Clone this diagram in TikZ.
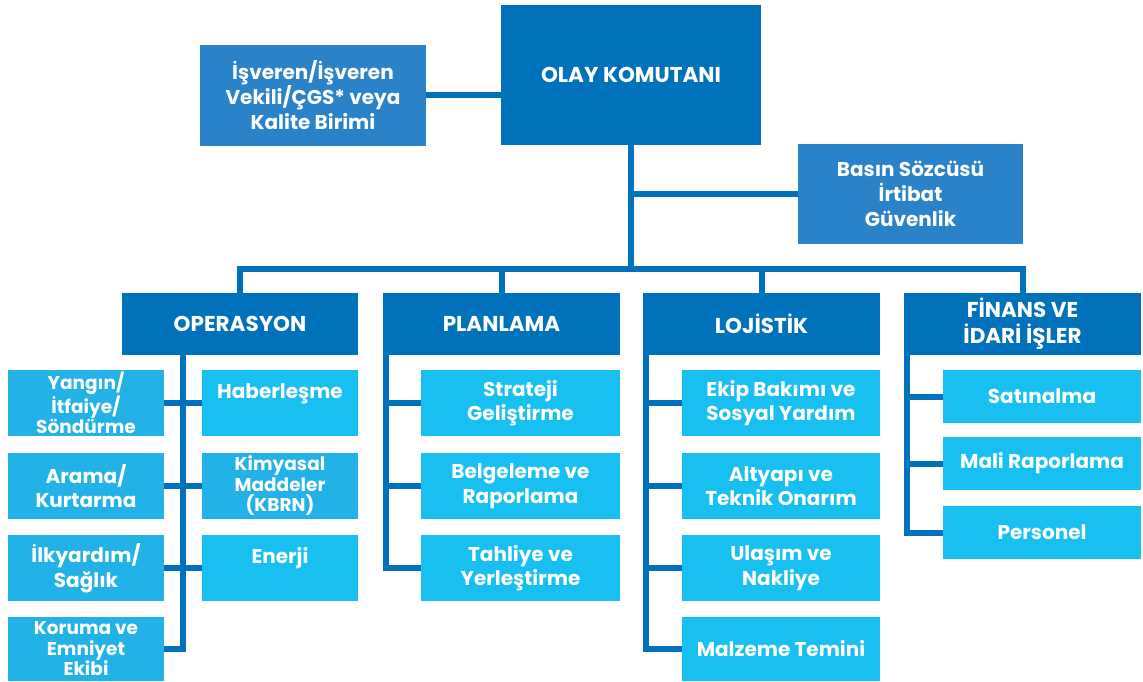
\documentclass[tikz,border=0pt]{standalone}
\usepackage{fontspec}
\setmainfont{Poppins}[BoldFont={Poppins Bold}]
\definecolor{koyu}{RGB}{0,113,187}
\definecolor{orta}{RGB}{42,130,200}
\definecolor{acik}{RGB}{24,192,242}
\definecolor{acik2}{RGB}{34,178,232}
\begin{document}
\begin{tikzpicture}[x=1pt,y=-1pt,
    kutu/.style={fill=#1,text=white,inner sep=0pt,align=center,
      font=\bfseries\fontsize{20}{25}\selectfont},
    ust/.style={kutu=koyu,font=\bfseries\fontsize{21.5}{26}\selectfont},
    alt/.style={kutu=acik,minimum height=66pt,font=\bfseries\fontsize{20}{24.5}\selectfont},
    sik/.style={font=\bfseries\fontsize{18.5}{20.5}\selectfont},
    hat/.style={draw=koyu,line width=6pt,line join=miter}]
  \useasboundingbox (0,0) rectangle (1143,681);

  % ust kisim
  \node[ust,minimum width=260pt,minimum height=140pt] (olay) at (631,75) {OLAY KOMUTANI};
  \node[kutu=orta,minimum width=226pt,minimum height=101pt] (isveren) at (313,95)
    {İşveren/İşveren\\Vekili/ÇGS* veya\\Kalite Birimi};
  \node[kutu=orta,minimum width=225pt,minimum height=100pt] (basin) at (910.5,194)
    {Basın Sözcüsü\\İrtibat\\Güvenlik};

  % bolumler
  \node[ust,minimum width=236pt,minimum height=62pt] (op) at (240,324) {OPERASYON};
  \node[ust,minimum width=237pt,minimum height=62pt] (plan) at (501.5,324) {PLANLAMA};
  \node[ust,minimum width=237pt,minimum height=62pt] (loj) at (761.5,324) {LOJİSTİK};
  \node[ust,minimum width=237pt,minimum height=62pt] (fin) at (1022.5,324) {FİNANS VE\\İDARİ İŞLER};

  % operasyon
  \node[alt,fill=acik2,sik,minimum width=156pt] (yangin) at (86,403) {Yangın/\\İtfaiye/\\Söndürme};
  \node[alt,fill=acik2,minimum width=156pt] (arama) at (86,486) {Arama/\\Kurtarma};
  \node[alt,fill=acik2,minimum width=156pt] (saglik) at (86,568) {İlkyardım/\\Sağlık};
  \node[alt,fill=acik2,sik,minimum width=156pt,minimum height=64pt] (koruma) at (86,649) {Koruma ve\\Emniyet\\Ekibi};
  \node[alt,minimum width=156pt] (haber) at (280,403) {Haberleşme\\\mbox{}};
  \node[alt,fill=acik2,sik,minimum width=156pt] (kbrn) at (280,486) {Kimyasal\\Maddeler\\(KBRN)};
  \node[alt,minimum width=156pt] (enerji) at (280,568) {Enerji\\\mbox{}};

  % planlama
  \node[alt,minimum width=199pt] (strateji) at (520.5,403) {Strateji\\Geliştirme};
  \node[alt,minimum width=199pt] (belge) at (520.5,486) {Belgeleme ve\\Raporlama};
  \node[alt,minimum width=199pt] (tahliye) at (520.5,568) {Tahliye ve\\Yerleştirme};

  % lojistik
  \node[alt,minimum width=198pt] (ekip) at (781,403) {Ekip Bakımı ve\\Sosyal Yardım};
  \node[alt,minimum width=198pt] (altyapi) at (781,486) {Altyapı ve\\Teknik Onarım};
  \node[alt,minimum width=198pt] (ulasim) at (781,568) {Ulaşım ve\\Nakliye};
  \node[alt,minimum width=198pt,minimum height=64pt] (malzeme) at (781,649) {Malzeme Temini};

  % finans
  \node[alt,minimum width=198pt,minimum height=53pt] (satin) at (1042,396.5) {Satınalma};
  \node[alt,minimum width=198pt,minimum height=53pt] (mali) at (1042,463.5) {Mali Raporlama};
  \node[alt,minimum width=198pt,minimum height=53pt] (personel) at (1042,532.5) {Personel};

  \coordinate (bus) at (631,269);
  \coordinate (opspine) at (183,355);

  % baglantilar
  \draw[hat] (isveren.east) -- (isveren.east -| olay.west);
  \draw[hat] (olay.south) -- (bus);
  \draw[hat] (olay.south |- basin.west) -- (basin.west);
  \draw[hat] (op.north) |- (bus) -| (fin.north);
  \draw[hat] (plan.north) -- (plan.north |- bus);
  \draw[hat] (loj.north) -- (loj.north |- bus);

  \draw[hat] (opspine) |- (koruma.east);
  \draw[hat] (yangin.east) -- (haber.west);
  \draw[hat] (arama.east) -- (kbrn.west);
  \draw[hat] (saglik.east) -- (enerji.west);

  \draw[hat] ([xshift=3pt]plan.south west) |- (tahliye.west);
  \draw[hat] (strateji.west) -- ++(-35,0);
  \draw[hat] (belge.west) -- ++(-35,0);

  \draw[hat] ([xshift=3pt]loj.south west) |- (malzeme.west);
  \draw[hat] (ekip.west) -- ++(-36,0);
  \draw[hat] (altyapi.west) -- ++(-36,0);
  \draw[hat] (ulasim.west) -- ++(-36,0);

  \draw[hat] ([xshift=3pt]fin.south west) |- (personel.west);
  \draw[hat] (satin.west) -- ++(-36,0);
  \draw[hat] (mali.west) -- ++(-36,0);
\end{tikzpicture}
\end{document}
